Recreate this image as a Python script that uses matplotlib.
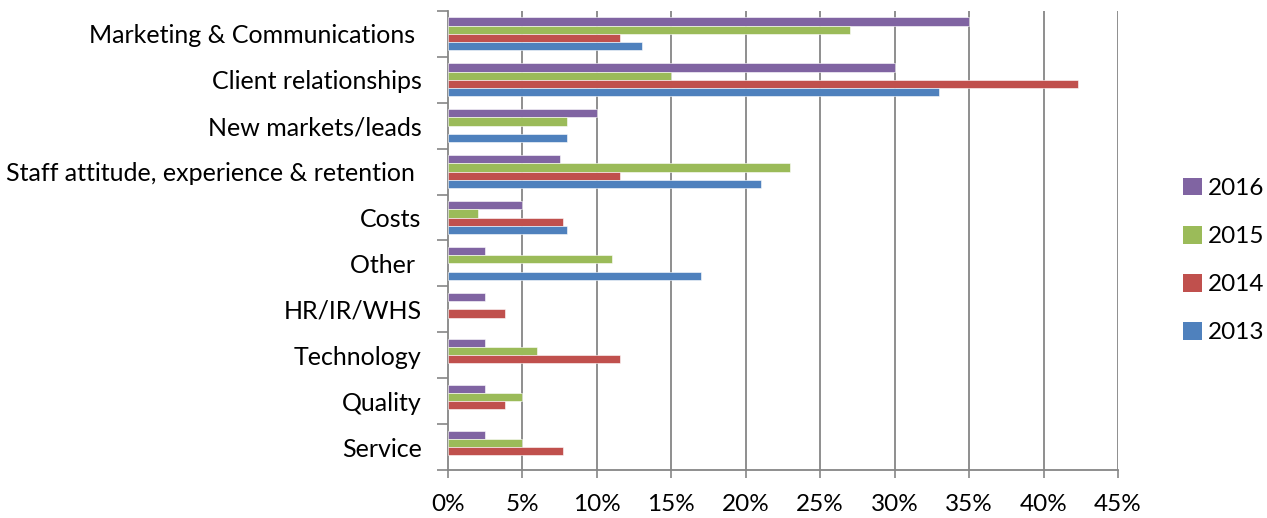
import numpy as np
import matplotlib
matplotlib.use('agg')
import matplotlib.pyplot as plt
from matplotlib.patches import Patch

plt.rcParams['font.family'] = ['Lato', 'DejaVu Sans']

categories = ["Marketing & Communications ", "Client relationships", "New markets/leads",
              "Staff attitude, experience & retention ", "Costs", "Other ",
              "HR/IR/WHS", "Technology", "Quality", "Service"]
years = ["2016", "2015", "2014", "2013"]
colors = {"2016": "#8064A2", "2015": "#9BBB59", "2014": "#C0504D", "2013": "#4F81BD"}

# percent of respondents, 0 = no answer that year
v2016 = [35, 30, 10, 7.5, 5, 2.5, 2.5, 2.5, 2.5, 2.5]
v2015 = [27, 15, 8, 23, 2, 11, 0, 6, 5, 5]
v2014 = [11.54, 42.31, 0, 11.54, 7.69, 0, 3.85, 11.54, 3.85, 7.69]
v2013 = [13, 33, 8, 21, 8, 17, 0, 0, 0, 0]
values = {"2016": v2016, "2015": v2015, "2014": v2014, "2013": v2013}

x_ticks = list(range(0, 50, 5))

fig = plt.figure(figsize=(12.67, 5.18), dpi=100)
ax = fig.add_axes([0.3536, 0.0927, 0.5288, 0.8861])

ypos = np.arange(len(categories))
h = 0.18
for k, yr in enumerate(years):
    offs = (k - 1.5) * h
    for i, v in enumerate(values[yr]):
        if v > 0:
            ax.barh(ypos[i] + offs, v, height=h, color=colors[yr],
                    edgecolor='white', linewidth=0.4, zorder=3)

ax.set_xlim(0, 45)
ax.set_ylim(len(categories) - 0.5, -0.5)

grid_c = '#868686'
ax.set_xticks(x_ticks)
ax.set_xticklabels([f"{t}%" for t in x_ticks], fontsize=17.5)
ax.tick_params(axis='x', length=6, color=grid_c, width=1.2, pad=11)
for t in x_ticks[1:]:
    ax.axvline(t, color=grid_c, linewidth=1.3, zorder=1)

ax.set_yticks(ypos)
ax.set_yticklabels(categories, fontsize=18)
ax.tick_params(axis='y', which='major', length=0, pad=19)
ax.set_yticks(np.arange(-0.5, len(categories)), minor=True)
ax.tick_params(axis='y', which='minor', length=8, color=grid_c, width=1.2)

for s in ['top', 'right']:
    ax.spines[s].set_visible(False)
for s in ['left', 'bottom']:
    ax.spines[s].set_color(grid_c)
    ax.spines[s].set_linewidth(1.3)

handles = [Patch(facecolor=colors[y], edgecolor='none') for y in years]
fig.legend(handles, years, loc='center left', bbox_to_anchor=(0.934, 0.497),
           frameon=False, fontsize=17.5, handlelength=0.75, handleheight=0.75,
           handletextpad=0.25, labelspacing=1.1, borderpad=0, borderaxespad=0)

fig.savefig('out.png', dpi=100)
